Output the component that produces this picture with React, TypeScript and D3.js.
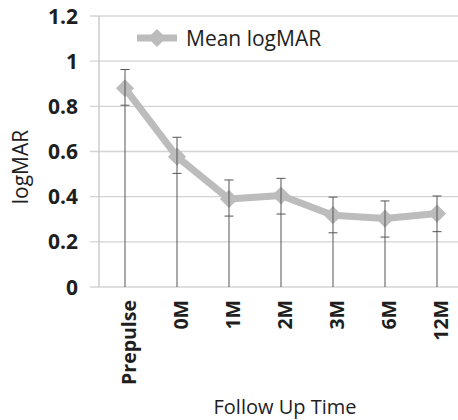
import React from "react";
import * as d3 from "d3";

const categories = ["Prepulse", "0M", "1M", "2M", "3M", "6M", "12M"];
const meanValues = [0.88, 0.577, 0.39, 0.405, 0.318, 0.303, 0.325];
const upperValues = [0.963, 0.663, 0.474, 0.481, 0.398, 0.381, 0.403];
const lowerValues = [0.805, 0.503, 0.314, 0.323, 0.24, 0.221, 0.245];
const yTicks = [0, 0.2, 0.4, 0.6, 0.8, 1, 1.2];
const seriesName = "Mean logMAR";
const xTitle = "Follow Up Time";
const yTitle = "logMAR";

const W = 458;
const H = 420;
const plotLeft = 99;
const plotRight = 463;
const plotTop = 16;
const plotBottom = 287;

const LINE_COLOR = "#bcbcbc";
const ERR_COLOR = "#555555";
const GRID_COLOR = "#d4d4d4";
const TEXT_COLOR = "#1e1e1e";
const FONT = "'Open Sans', 'Noto Sans', sans-serif";

export default function App() {
  const x = d3.scaleBand<string>().domain(categories).range([plotLeft, plotRight]);
  const y = d3.scaleLinear().domain([0, 1.2]).range([plotBottom, plotTop]);
  const cx = (c: string) => (x(c) as number) + x.bandwidth() / 2;

  const pts = categories.map((c, i) => [cx(c), y(meanValues[i])] as [number, number]);
  const linePath = d3.line()(pts) as string;
  const marker = d3.symbol().type(d3.symbolSquare).size(165)() as string;
  const fmt = (v: number) => (v === 0 ? "0" : v === 1 ? "1" : d3.format(".1f")(v));

  const legX1 = 137;
  const legX2 = 177;
  const legY = 38;

  return (
    <svg width={W} height={H} style={{ display: "block", position: "absolute", left: 0, top: 0 }}>
      <defs>
        <filter id="soft" x="-20%" y="-20%" width="140%" height="140%">
          <feGaussianBlur stdDeviation="0.6" />
        </filter>
      </defs>
      <rect x={0} y={0} width={W} height={H} fill="#fff" />
      {yTicks.map((t) => (
        <line key={"g" + t} x1={90} x2={plotRight} y1={y(t)} y2={y(t)} stroke={GRID_COLOR} strokeWidth={1.3} />
      ))}
      <line x1={plotLeft} x2={plotLeft} y1={plotTop} y2={plotBottom} stroke="#c4c4c4" strokeWidth={1.3} />
      {yTicks.map((t) => (
        <text
          key={"t" + t}
          x={78}
          y={y(t)}
          dy="0.36em"
          textAnchor="end"
          fontFamily={FONT}
          fontWeight="bold"
          fontSize={21}
          fill={TEXT_COLOR}
        >
          {fmt(t)}
        </text>
      ))}
      <g filter="url(#soft)">
        <path d={linePath} fill="none" stroke={LINE_COLOR} strokeWidth={7} strokeLinejoin="round" />
        {pts.map((p, i) => (
          <path key={"m" + i} d={marker} transform={`translate(${p[0]},${p[1]}) rotate(45)`} fill={LINE_COLOR} />
        ))}
      </g>
      {categories.map((c, i) => {
        const px = cx(c);
        return (
          <g key={"e" + c} stroke={ERR_COLOR} strokeWidth={1}>
            <line x1={px} x2={px} y1={y(upperValues[i])} y2={plotBottom} />
            <line x1={px - 4.5} x2={px + 4.5} y1={y(upperValues[i])} y2={y(upperValues[i])} />
            <line x1={px - 4.5} x2={px + 4.5} y1={y(lowerValues[i])} y2={y(lowerValues[i])} />
          </g>
        );
      })}
      {categories.map((c) => (
        <text
          key={"x" + c}
          transform={`translate(${cx(c) + 11},${300}) rotate(-90)`}
          textAnchor="end"
          fontFamily={FONT}
          fontWeight="bold"
          fontSize={19.5}
          fill={TEXT_COLOR}
        >
          {c}
        </text>
      ))}
      <g filter="url(#soft)">
        <line x1={legX1} x2={legX2} y1={legY} y2={legY} stroke={LINE_COLOR} strokeWidth={7} />
        <path d={marker} transform={`translate(${(legX1 + legX2) / 2},${legY}) rotate(45)`} fill={LINE_COLOR} />
      </g>
      <text x={186} y={legY} dy="0.36em" fontFamily={FONT} fontSize={21} fill={TEXT_COLOR}>
        {seriesName}
      </text>
      <text x={285} y={414} textAnchor="middle" fontFamily={FONT} fontSize={20} fill={TEXT_COLOR}>
        {xTitle}
      </text>
      <text
        transform={`translate(${28},${167}) rotate(-90)`}
        textAnchor="middle"
        fontFamily={FONT}
        fontSize={21}
        fill={TEXT_COLOR}
      >
        {yTitle}
      </text>
    </svg>
  );
}
